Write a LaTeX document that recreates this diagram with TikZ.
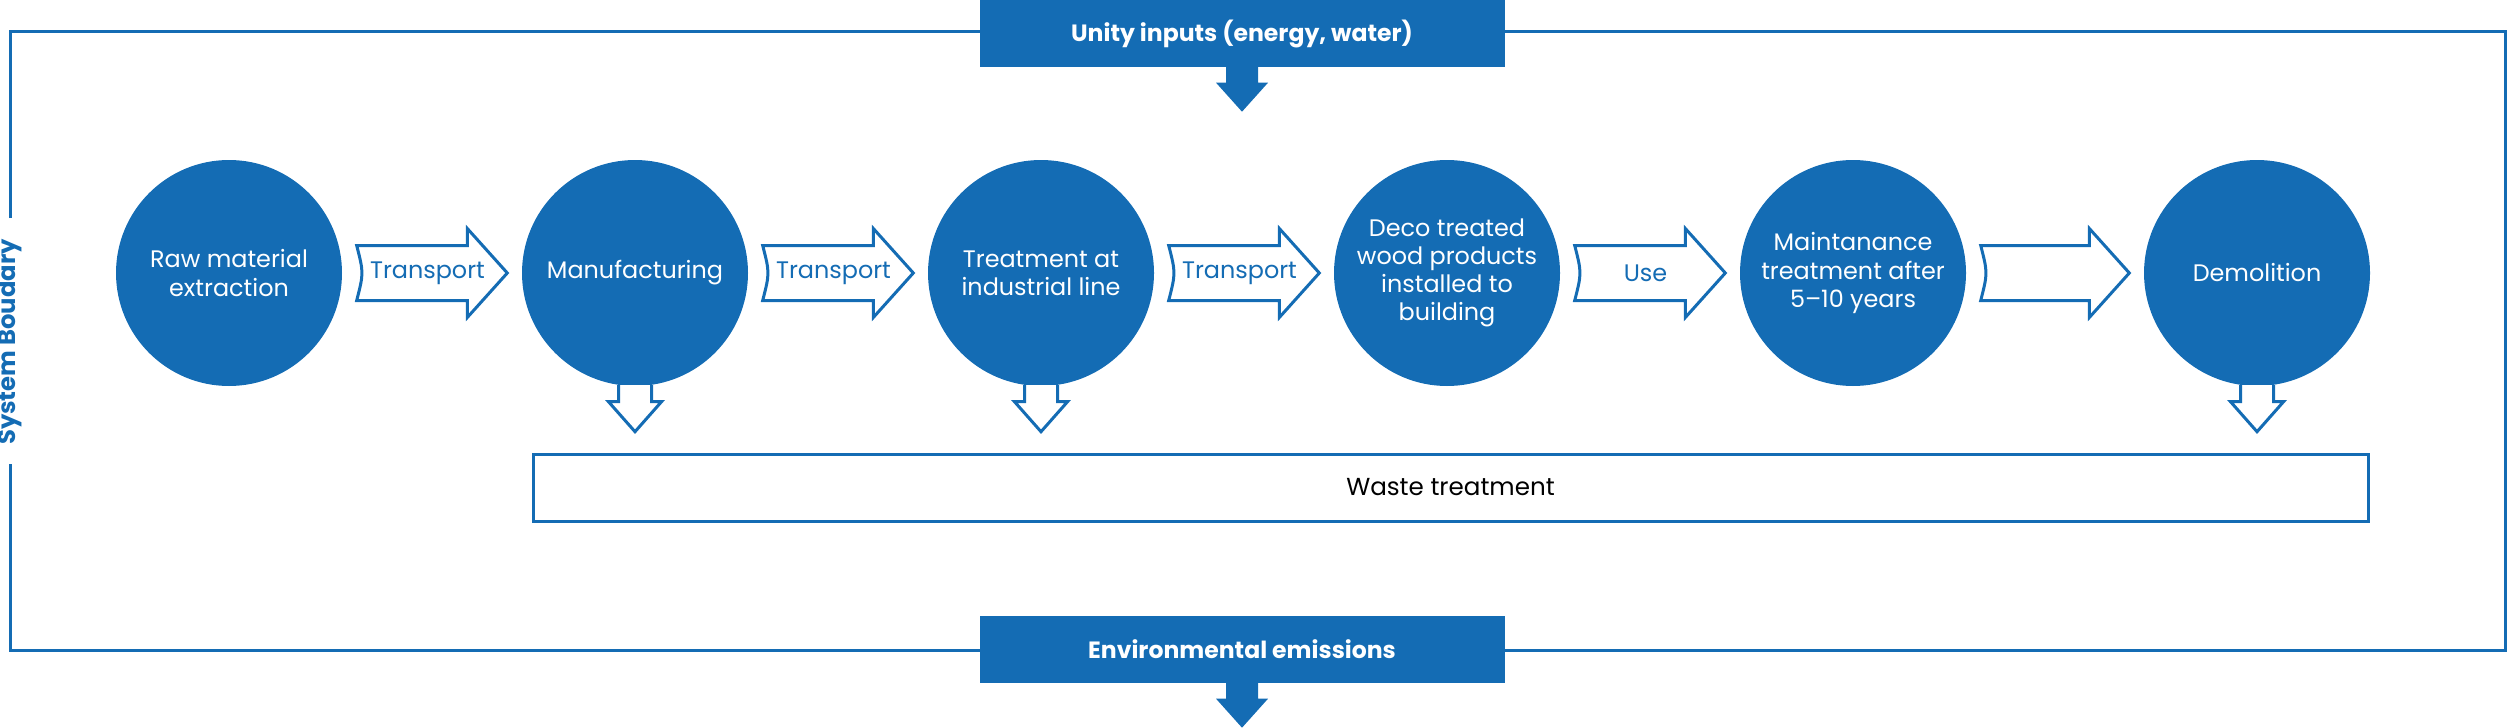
\documentclass[tikz,border=0pt]{standalone}
\usepackage{fontspec}
\setmainfont{Poppins}
\usetikzlibrary{calc}
\definecolor{lcablue}{HTML}{146CB4}

% hollow arrow from one stage to the next
\newcommand{\flowarrow}[3]{%
  \coordinate (fa) at ($(#1.east)+(14,0)$);
  \coordinate (fb) at ($(#2.west)+(-14,0)$);
  \draw[hollow] ($(fa)+(0,27.5)$) .. controls ($(fa)+(7,0)$) .. ($(fa)+(0,-27.5)$)
    -- ($(fb)+(-40,-27.5)$) -- ($(fb)+(-40,-44.5)$) -- (fb)
    -- ($(fb)+(-40,44.5)$) -- ($(fb)+(-40,27.5)$) -- cycle;
  \node[flowlabel] at ($(fa)!0.47!(fb)$) {#3};
}
% hollow arrow down to the waste box
\newcommand{\wastearrow}[1]{%
  \draw[hollow] ($(#1.south)+(-16.5,-1.5)$) -- ++(0,16.5) -- ++(-10,0)
    -- ($(#1.south)+(0,45)$) -- ($(#1.south)+(26.5,15)$) -- ++(-10,0) -- ++(0,-16.5);
}
% solid arrow under a blue box
\newcommand{\solidarrow}[1]{%
  \fill[lcablue] ($(#1.south)+(-16,-1)$) -- ++(0,16) -- ++(-10,0)
    -- ($(#1.south)+(0,44)$) -- ($(#1.south)+(26,15)$) -- ++(-10,0) -- ++(0,-16) -- cycle;
}

\begin{document}
\begin{tikzpicture}[x=0.1mm, y=-0.1mm,
    stage/.style={circle, fill=lcablue, minimum size=22.6mm, inner sep=-12pt,
      text=white, align=center, font=\fontsize{6.8}{8}\selectfont},
    hollow/.style={draw=lcablue, line width=0.3mm, fill=white, line join=miter},
    flowlabel/.style={text=lcablue, font=\fontsize{6.8}{8}\selectfont},
    infobox/.style={rectangle, fill=lcablue, text=white, minimum width=52.5mm,
      minimum height=6.7mm, font=\fontsize{6.7}{8}\selectfont\bfseries}]
  \useasboundingbox (0,0) rectangle (2507,727);

  % system boundary
  \draw[lcablue, line width=0.3mm] (10,218) -- (10,32) -- (2505,32) -- (2505,650)
    -- (10,650) -- (10,464);
  \node[rotate=90, text=lcablue, font=\fontsize{6.9}{8}\selectfont\bfseries] (boundary) at (10,342) {System Boudary};

  %nodes
  \node[infobox] (inputs) at (1242,33.5) {Unity inputs (energy, water)};
  \node[infobox] (emissions) at (1242,649.5) {Environmental emissions};

  \node[stage] (raw) at (229,273) {Raw material\\extraction};
  \node[stage] (manu) at (635,273) {Manufacturing};
  \node[stage] (line) at (1041,273) {Treatment at\\industrial line};
  \node[stage] (deco) at (1447,273) {Deco treated\\wood products\\installed to\\building};
  \node[stage] (maint) at (1853,273) {Maintanance\\treatment after\\5–10 years};
  \node[stage] (demo) at (2257,273) {Demolition};

  \node[draw=lcablue, line width=0.3mm, minimum width=183.5mm, minimum height=6.7mm,
    font=\fontsize{7}{8}\selectfont] (waste) at (1450.5,487.5) {Waste treatment};

  % arrows
  \solidarrow{inputs}
  \solidarrow{emissions}
  \flowarrow{raw}{manu}{Transport}
  \flowarrow{manu}{line}{Transport}
  \flowarrow{line}{deco}{Transport}
  \flowarrow{deco}{maint}{Use}
  \flowarrow{maint}{demo}{}
  \wastearrow{manu}
  \wastearrow{line}
  \wastearrow{demo}
\end{tikzpicture}
\end{document}
